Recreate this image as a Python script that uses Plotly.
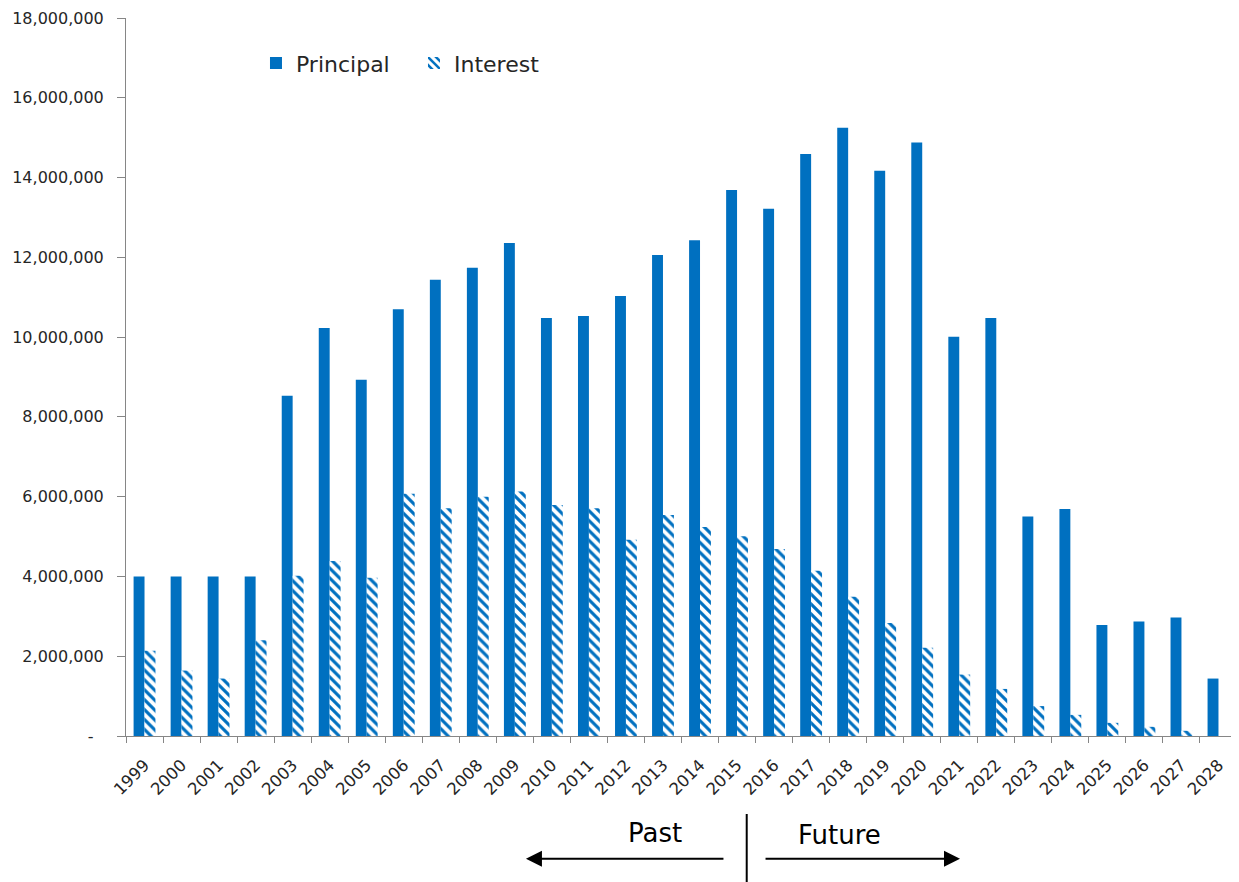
import plotly.graph_objects as go

years = [str(y) for y in range(1999, 2029)]
principal = [4.00, 4.00, 4.00, 4.00, 8.53, 10.23, 8.93, 10.70, 11.44, 11.74,
             12.36, 10.48, 10.53, 11.03, 12.06, 12.43, 13.69, 13.22, 14.59, 15.25,
             14.17, 14.88, 10.01, 10.48, 5.50, 5.69, 2.78, 2.87, 2.97, 1.44]
interest = [2.14, 1.64, 1.44, 2.40, 4.02, 4.39, 3.97, 6.07, 5.71, 6.00,
            6.13, 5.79, 5.71, 4.92, 5.54, 5.24, 5.01, 4.69, 4.14, 3.49,
            2.83, 2.21, 1.54, 1.18, 0.75, 0.53, 0.33, 0.23, 0.13, 0.0]
principal = [v * 1e6 for v in principal]
interest = [v * 1e6 for v in interest]

ytick_vals = [0, 2e6, 4e6, 6e6, 8e6, 10e6, 12e6, 14e6, 16e6, 18e6]
ytick_text = ["-\u00a0\u00a0", "2,000,000", "4,000,000", "6,000,000", "8,000,000",
              "10,000,000", "12,000,000", "14,000,000", "16,000,000", "18,000,000"]

BLUE = "#0070C0"
AXIS = "#868686"
TXT = "#262626"
FONT = "DejaVu Sans, Verdana, sans-serif"

fig = go.Figure()
fig.add_trace(go.Bar(x=years, y=principal, name="Principal",
                     marker=dict(color=BLUE, line=dict(width=0))))
fig.add_trace(go.Bar(x=years, y=interest, name="Interest",
                     marker=dict(color="white", line=dict(width=0),
                                 pattern=dict(shape="\\", fgcolor=BLUE, bgcolor="white",
                                              fgopacity=1, size=7, solidity=0.45,
                                              fillmode="replace"))))

fig.update_layout(
    width=1231, height=874,
    margin=dict(l=118, r=2, t=10, b=146),
    paper_bgcolor="white", plot_bgcolor="white",
    barmode="group", bargap=0.41, bargroupgap=0,
    font=dict(family=FONT, color=TXT, size=16),
    showlegend=True,
    legend=dict(orientation="h", x=0.117, y=0.937, xanchor="left", yanchor="middle",
                font=dict(family=FONT, size=22, color=TXT),
                itemwidth=30, entrywidth=113, bgcolor="rgba(0,0,0,0)",
                traceorder="normal"),
    xaxis=dict(showline=True, linecolor=AXIS, linewidth=1, ticks="outside",
               ticklen=6, tickcolor=AXIS, tickson="boundaries", tickangle=-45,
               ticklabelstandoff=12,
               showgrid=False, automargin=False, tickfont=dict(size=16.5, color=TXT)),
    yaxis=dict(range=[0, 18e6], showline=True, linecolor=AXIS, linewidth=1,
               ticks="outside", ticklen=8, tickcolor=AXIS, showgrid=False,
               zeroline=False, tickvals=ytick_vals, ticktext=ytick_text,
               ticklabelstandoff=10, automargin=False,
               tickfont=dict(size=16, color=TXT)),
)

# Past / Future annotation
fig.add_annotation(x=0.3600, y=-0.171, xref="paper", yref="paper", text="",
                   showarrow=True, ax=199, ay=0, axref="pixel", ayref="pixel",
                   arrowhead=2, arrowsize=1.6, arrowwidth=2, arrowcolor="black")
fig.add_annotation(x=0.7507, y=-0.171, xref="paper", yref="paper", text="",
                   showarrow=True, ax=-196, ay=0, axref="pixel", ayref="pixel",
                   arrowhead=2, arrowsize=1.6, arrowwidth=2, arrowcolor="black")
fig.add_shape(type="line", xref="paper", yref="paper", x0=0.5587, x1=0.5587,
              y0=-0.1086, y1=-0.205, line=dict(color="black", width=2))
fig.add_annotation(x=0.476, y=-0.135, xref="paper", yref="paper", text="Past",
                   xanchor="center", yanchor="middle", showarrow=False,
                   font=dict(family=FONT, size=26, color="black"))
fig.add_annotation(x=0.642, y=-0.138, xref="paper", yref="paper", text="Future",
                   xanchor="center", yanchor="middle", showarrow=False,
                   font=dict(family=FONT, size=26, color="black"))

fig.write_html("out.html")
